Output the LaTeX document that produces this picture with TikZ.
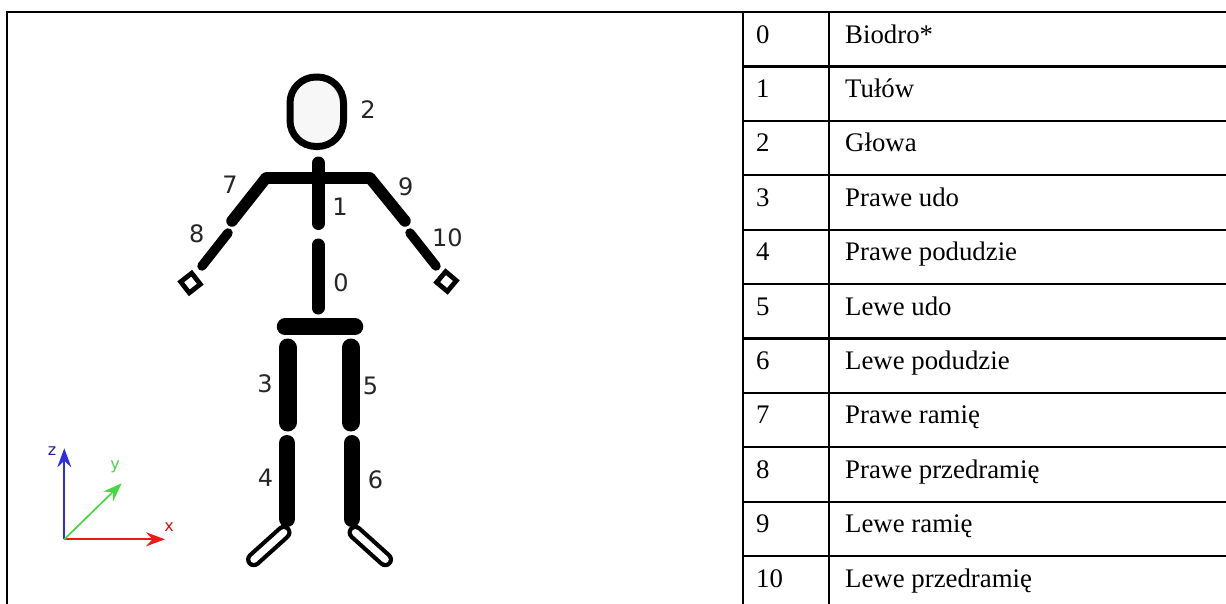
\documentclass[tikz,border=0pt]{standalone}
\usepackage{fontspec}
\setmainfont{Liberation Serif}
\newfontfamily\labelfont{DejaVu Sans}
\usetikzlibrary{arrows.meta}
\definecolor{zaxis}{RGB}{45,45,225}
\definecolor{xaxis}{RGB}{235,25,25}
\definecolor{yaxis}{RGB}{70,215,70}
\begin{document}
\begin{tikzpicture}[x=1pt,y=-1pt,
  grid/.style={line width=2.2pt},
  cell/.style={font=\fontsize{26.8}{30}\selectfont, inner sep=0pt},
  bone/.style={line width=#1, line cap=round},
  joint/.style={font=\labelfont\fontsize{24}{27}\selectfont, text=black!85, inner sep=0pt},
  hand/.style={draw, rectangle, line width=4.8pt, minimum size=14pt, inner sep=0pt, fill=white},
  footout/.style={line width=15.5pt, line cap=round, black},
  footin/.style={line width=7pt, line cap=round, white},
  axis/.style={line width=1.7pt, -{Stealth[length=19pt,width=14pt,inset=6.5pt]}},
  axlabel/.style={font=\labelfont\fontsize{16}{18}\selectfont, inner sep=0pt}]

\useasboundingbox (0,0) rectangle (1226,603);
\fill[white] (0,0) rectangle (1226,603);

% ---- table frame ----
\draw[grid] (7,604) -- (7,12) -- (1227,12);
\draw[grid] (743,12) -- (743,604);
\draw[grid] (829,12) -- (829,604);
\foreach \k in {1,...,10}
  \draw[grid] (743,{12+54.4*\k}) -- (1227,{12+54.4*\k});

% ---- table entries ----
\foreach \i/\t [count=\row from 0] in {0/Biodro*, 1/Tułów, 2/Głowa, 3/Prawe udo,
    4/Prawe podudzie, 5/Lewe udo, 6/Lewe podudzie, 7/Prawe ramię,
    8/Prawe przedramię, 9/Lewe ramię, 10/Lewe przedramię} {
  \node[cell, anchor=base west] (num\i) at (756,{12+54.4*\row+31}) {\i};
  \node[cell, anchor=base west] (name\i) at (845,{12+54.4*\row+31}) {\t};
}

% ---- stick figure: joints ----
\coordinate (neckA) at (318.3,163);   \coordinate (neckB) at (318.3,223.5);
\coordinate (shL) at (268,177.5);     \coordinate (shR) at (368,177.5);
\coordinate (uaLa) at (266,178);      \coordinate (uaLb) at (232,221);
\coordinate (faLa) at (228,233);      \coordinate (faLb) at (202,266);
\coordinate (uaRa) at (370,178);      \coordinate (uaRb) at (405,221);
\coordinate (faRa) at (410,233);      \coordinate (faRb) at (436,266);
\coordinate (hipA) at (318,245);      \coordinate (hipB) at (318,308);
\coordinate (pelL) at (285,326.7);    \coordinate (pelR) at (355,326.7);
\coordinate (thLa) at (287.5,347.5);  \coordinate (thLb) at (287.5,422.5);
\coordinate (shinLa) at (287,443);    \coordinate (shinLb) at (287,519);
\coordinate (thRa) at (350.8,347.5);  \coordinate (thRb) at (350.8,422.5);
\coordinate (shinRa) at (351.7,443);  \coordinate (shinRb) at (351.7,519);
\coordinate (ftLa) at (283.8,532.5);  \coordinate (ftLb) at (253.8,559.5);
\coordinate (ftRa) at (355.3,532.5);  \coordinate (ftRb) at (385.3,559.5);

% head
\draw[line width=7pt, fill=black!3, rounded corners=26pt] (290,77) rectangle (343.5,146.5);
\node[joint] (l2) at (368,110) {2};

% body segments
\draw[bone=13pt] (neckA) -- (neckB);
\draw[bone=12pt] (shL) -- (shR);
\draw[bone=11.5pt] (uaLa) -- (uaLb);
\draw[bone=9.5pt]  (faLa) -- (faLb);
\draw[bone=11.5pt] (uaRa) -- (uaRb);
\draw[bone=9.5pt]  (faRa) -- (faRb);
\draw[bone=13pt] (hipA) -- (hipB);
\draw[bone=16.5pt] (pelL) -- (pelR);
\draw[bone=18pt] (thLa) -- (thLb);
\draw[bone=16pt] (shinLa) -- (shinLb);
\draw[bone=18pt] (thRa) -- (thRb);
\draw[bone=16pt] (shinRa) -- (shinRb);

% hands
\node[hand, rotate=38] (handL) at (190.5,283) {};
\node[hand, rotate=50] (handR) at (446.5,281.5) {};

% feet (outlined capsules)
\draw[footout] (ftLa) -- (ftLb);
\draw[footin]  (ftLa) -- (ftLb);
\draw[footout] (ftRa) -- (ftRb);
\draw[footin]  (ftRa) -- (ftRb);

% segment numbers
\node[joint] (l0) at (341,283) {0};
\node[joint] (l1) at (340,207) {1};
\node[joint] (l3) at (265,384) {3};
\node[joint] (l4) at (265.5,477.5) {4};
\node[joint] (l5) at (370.5,386) {5};
\node[joint] (l6) at (375.5,480) {6};
\node[joint] (l7) at (230,185) {7};
\node[joint] (l8) at (196.7,234) {8};
\node[joint] (l9) at (405.8,187) {9};
\node[joint] (l10) at (447.3,237.5) {10};

% ---- coordinate axes ----
\coordinate (O) at (64.3,539.3);
\coordinate (zt) at (64.3,448.3);
\coordinate (xt) at (165,539.3);
\coordinate (yt) at (121.7,483.3);
\draw[axis, zaxis] (O) -- (zt);
\draw[axis, xaxis] (O) -- (xt);
\draw[axis, yaxis] (O) -- (yt);
\node[axlabel, text=zaxis!70!black] (zl) at (52,451) {z};
\node[axlabel, text=yaxis] (yl) at (115,467) {y};
\node[axlabel, text=xaxis!85!black] (xl) at (169,527) {x};
\end{tikzpicture}
\end{document}
